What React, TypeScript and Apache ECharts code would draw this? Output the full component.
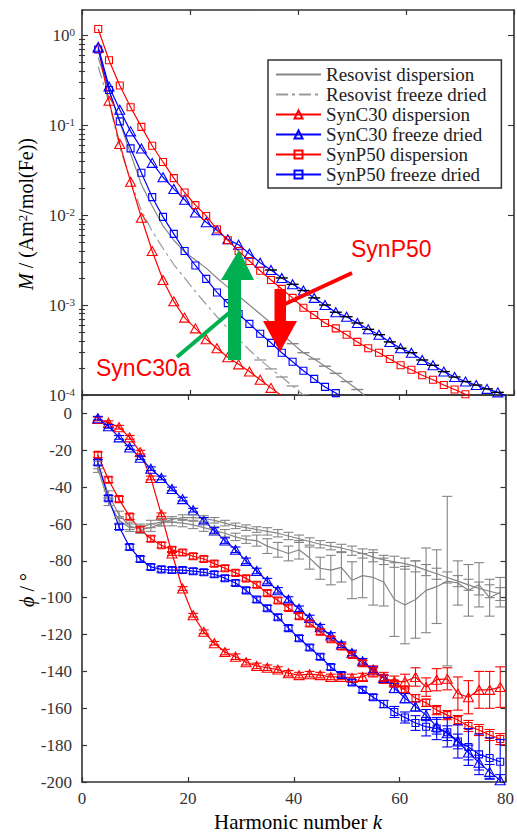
import { useEffect, useRef } from "react";
import * as echarts from "echarts";

// Odd harmonic numbers
const K = [3, 5, 7, 9, 11, 13, 15, 17, 19, 21, 23, 25, 27, 29, 31, 33, 35, 37, 39, 41, 43, 45, 47, 49, 51, 53, 55, 57, 59, 61, 63, 65, 67, 69, 71, 73, 75, 77, 79];

// Magnitude M / (Am^2/mol(Fe)), starting at k = 3
const resovistDispM = [0.562, 0.24, 0.107, 0.0479, 0.0219, 0.0126, 0.00759, 0.00525, 0.00389, 0.00316, 0.00257, 0.002, 0.00158, 0.00126, 0.001, 7.94e-4, 6.31e-4, 4.79e-4, 3.72e-4, 2.95e-4, 2.51e-4, 2.09e-4, 1.74e-4, 1.41e-4, 1.15e-4, 9.1e-5];
const resovistFdM = [0.447, 0.178, 0.0562, 0.024, 0.0112, 0.00661, 0.00427, 0.00282, 0.002, 0.00141, 0.00102, 7.41e-4, 5.5e-4, 4.17e-4, 3.16e-4, 2.45e-4, 1.95e-4, 1.585e-4, 1.26e-4, 1.0e-4, 7.9e-5];
const synC30DispM = [0.72, 0.186, 0.0617, 0.0234, 0.00933, 0.00398, 0.0019, 0.0011, 7.24e-4, 5.5e-4, 4.17e-4, 3.31e-4, 2.63e-4, 2.19e-4, 1.82e-4, 1.48e-4, 1.2e-4, 9.8e-5];
const synC30FdM = [0.741, 0.269, 0.148, 0.0851, 0.055, 0.038, 0.0263, 0.0195, 0.0148, 0.0107, 0.00832, 0.00676, 0.00537, 0.00468, 0.00372, 0.00295, 0.00245, 0.002, 0.0017, 0.00145, 0.0012, 0.001, 8.32e-4, 7.41e-4, 6.31e-4, 5.37e-4, 4.68e-4, 3.89e-4, 3.31e-4, 2.95e-4, 2.45e-4, 2.14e-4, 1.82e-4, 1.585e-4, 1.41e-4, 1.29e-4, 1.17e-4, 1.07e-4, 9.5e-5];
const synP50DispM = [1.17, 0.525, 0.275, 0.158, 0.0955, 0.0589, 0.0389, 0.0257, 0.0178, 0.0129, 0.00977, 0.00692, 0.00525, 0.00398, 0.00309, 0.0024, 0.0019, 0.00151, 0.0012, 9.33e-4, 7.76e-4, 6.31e-4, 5.5e-4, 4.68e-4, 3.89e-4, 3.31e-4, 2.95e-4, 2.51e-4, 2.14e-4, 1.91e-4, 1.66e-4, 1.48e-4, 1.29e-4, 1.15e-4, 1.02e-4, 9.1e-5];
const synP50FdM = [0.692, 0.245, 0.11, 0.055, 0.0295, 0.0158, 0.00955, 0.00617, 0.00398, 0.00275, 0.00195, 0.00138, 0.00105, 7.94e-4, 6.17e-4, 4.79e-4, 3.8e-4, 2.95e-4, 2.34e-4, 1.86e-4, 1.51e-4, 1.23e-4, 1.05e-4, 8.7e-5];

// Phase phi / degree, k = 3 ... 79, with error half-widths
const resovistDispPhi = [-28, -44, -55, -61, -63, -62, -59.5, -57.5, -56.5, -56.5, -57, -58, -59.5, -61, -62, -63, -64, -65, -66.5, -68, -69.5, -71, -72, -73, -74.5, -76, -78, -79.5, -80.5, -81.5, -83, -85, -87, -89, -91, -93, -95, -96.5, -98];
const resovistDispErr = [2, 2, 2, 2, 2, 2, 1.5, 1.5, 1.5, 1.5, 1.5, 1.5, 1.5, 1.5, 1.5, 1.5, 2, 2, 2, 2, 2, 2, 2, 2, 2.5, 2.5, 2.5, 2.5, 3, 3, 3, 3, 3, 3, 3, 3, 3.5, 3.5, 3.5];
const resovistFdPhi = [-30, -48, -58, -62, -62, -60, -59, -59, -59.5, -60.5, -62, -63.5, -65, -67, -68.5, -69, -72, -74, -76, -74, -78.5, -84, -85, -83.5, -90.5, -88, -89, -91.5, -101, -104, -101, -96, -94, -91, -92, -96, -93, -100, -97];
const resovistFdErr = [2, 2, 2, 2, 2, 2, 2, 2, 2, 2, 2, 2, 2, 2, 2, 3, 4, 4, 4, 5, 6, 6, 8, 8, 10, 12, 15, 13, 20, 21, 21, 23, 20, 46, 12, 14, 12, 10, 8];
const synC30DispPhi = [-3, -5, -7.5, -13, -21, -35, -55, -76, -95, -109.5, -118.5, -124.7, -129.5, -132, -135, -137, -138, -139, -141, -142, -141.5, -142, -143, -143, -143.5, -143, -140, -143.5, -145.5, -145.5, -143, -148.5, -144.5, -144, -152, -154, -150, -150, -148.5];
const synC30DispErr = [1, 1, 1, 1, 1, 1, 1, 1, 1, 1, 1, 1, 1.5, 1.5, 1.5, 1.5, 1.5, 1.5, 1.5, 1.5, 1.5, 1.5, 1.5, 1.5, 2, 2, 3, 3, 3, 4, 5, 5, 6, 6, 9, 9, 10, 10, 11];
const synC30FdPhi = [-2.6, -7, -13, -18.5, -24, -30, -35, -41, -46.5, -52.5, -58, -63.5, -69, -74, -80, -85.5, -91, -96, -101, -106, -111, -116, -120.5, -125.5, -130, -134.5, -139, -143.5, -149, -154.5, -159, -163.7, -170, -173.5, -178, -184, -189.5, -194.5, -199];
const synC30FdErr = [1, 1, 1, 1, 1, 1, 1, 1, 1, 1, 1.5, 1.5, 1.5, 1.5, 1.5, 1.5, 1.5, 1.5, 1.5, 1.5, 1.5, 1.5, 1.5, 1.5, 1.5, 1.5, 1.5, 1.5, 2.5, 2.5, 2.5, 3, 4, 4, 4, 4, 4, 4, 3];
const synP50DispPhi = [-22.5, -36, -46.5, -56, -63, -68, -71.5, -74, -75.5, -77.5, -79, -81.5, -84, -86.5, -89.5, -93, -97.5, -101.5, -105.5, -110, -114, -118.5, -122.5, -126.5, -131, -135.5, -139.5, -143.5, -146.5, -150, -154.5, -157, -161, -163.7, -166.4, -169.6, -171.8, -174.5, -176.7];
const synP50DispErr = [1.5, 1.5, 1.5, 1.5, 1.5, 1.5, 1.5, 1.5, 1.5, 1.5, 1.5, 1.5, 1.5, 1.5, 1.5, 1.5, 1.5, 1.5, 1.5, 1.5, 1.5, 1.5, 1.5, 1.5, 1.5, 1.5, 1.5, 1.5, 1.5, 1.5, 2, 2, 2.5, 2.5, 2.5, 3, 3, 3, 3];
const synP50FdPhi = [-26.6, -46, -61.5, -72.5, -79, -83.3, -84.6, -85, -85, -85.6, -86.2, -87.3, -89.4, -92, -96, -101, -105.7, -110.6, -116.5, -122, -127, -132, -137.6, -142, -146, -150, -154, -157.7, -162, -165, -168, -170, -171, -173, -178, -181, -185, -187, -189];
const synP50FdErr = [1.5, 1.5, 1.5, 1.5, 1.5, 1.5, 1.5, 1.5, 1.5, 1.5, 1.5, 1.5, 1.5, 1.5, 1.5, 1.5, 1.5, 1.5, 1.5, 1.5, 1.5, 1.5, 1.5, 1.5, 1.5, 1.5, 1.5, 2, 3, 3, 4, 5, 6, 8, 9, 10, 11, 11, 12];

// Log axis ticks
const DECADES = [1e-4, 1e-3, 1e-2, 1e-1, 1];
const MINOR_MANTISSAS = [2, 3, 4, 5, 6, 7, 8, 9];
const MINOR_TICKS = DECADES.slice(0, 4).flatMap((d) => MINOR_MANTISSAS.map((m) => +(m * d).toPrecision(3)));

const NAMES = [
  "Resovist dispersion",
  "Resovist freeze dried",
  "SynC30 dispersion",
  "SynC30 freeze dried",
  "SynP50 dispersion",
  "SynP50 freeze dried",
];

const RED = "#ff0000";
const BLUE = "#0000ff";
const GRAY = "#858585";
const LIGHT_GRAY = "#9a9a9a";
const GREEN = "#00b050";
const INK = "#333333";
const NONE = "rgba(255,255,255,0)";
const SERIF = "'Liberation Serif', 'Times New Roman', serif";
const SANS = "'Liberation Sans', Arial, sans-serif";

const pairs = (vals: number[], start = 0) => vals.map((v, i) => [K[i + start], v]);
const ranges = (vals: number[], errs: number[]) => vals.map((v, i) => [K[i], v - errs[i], v + errs[i]]);

function lineSeries(name: string, data: number[][], color: string, symbol: string, size: any, xi: number, yi: number, dash?: any) {
  const plain = symbol === "none";
  return {
    type: "line",
    name,
    xAxisIndex: xi,
    yAxisIndex: yi,
    data,
    color,
    symbol,
    symbolSize: size,
    showAllSymbol: true,
    clip: true,
    lineStyle: { color, width: 1.2, type: dash || "solid" },
    itemStyle: { color: NONE, borderColor: plain ? NONE : color, borderWidth: plain ? 0 : 1.1 },
    emphasis: { disabled: true },
    z: 4,
  };
}

function errorBars(data: number[][], color: string, xi: number, yi: number) {
  return {
    type: "custom",
    xAxisIndex: xi,
    yAxisIndex: yi,
    clip: true,
    silent: true,
    z: 5,
    encode: { x: 0, y: [1, 2] },
    data,
    renderItem: (_params: any, api: any) => {
      const x = api.value(0);
      const top = api.coord([x, api.value(2)]);
      const bot = api.coord([x, api.value(1)]);
      const hw = 5;
      const style = { stroke: color, lineWidth: 1.1, fill: null };
      return {
        type: "group",
        children: [
          { type: "line", shape: { x1: top[0], y1: top[1], x2: bot[0], y2: bot[1] }, style },
          { type: "line", shape: { x1: top[0] - hw, y1: top[1], x2: top[0] + hw, y2: top[1] }, style },
          { type: "line", shape: { x1: bot[0] - hw, y1: bot[1], x2: bot[0] + hw, y2: bot[1] }, style },
        ],
      };
    },
  };
}

function caps(data: number[][], color: string, xi: number, yi: number) {
  return {
    type: "custom",
    xAxisIndex: xi,
    yAxisIndex: yi,
    clip: true,
    silent: true,
    z: 5,
    encode: { x: 0, y: 1 },
    data,
    renderItem: (_params: any, api: any) => {
      const p = api.coord([api.value(0), api.value(1)]);
      return {
        type: "line",
        shape: { x1: p[0] - 6, y1: p[1], x2: p[0] + 6, y2: p[1] },
        style: { stroke: color, lineWidth: 1.4 },
      };
    },
  };
}

const frame = { show: true, onZero: false, lineStyle: { color: INK, width: 1.6 } };
const noSplit = { show: false };

function xAxis(gridIndex: number, position: string, labels: boolean) {
  return {
    type: "value",
    gridIndex,
    position,
    min: 0,
    max: 80,
    interval: 20,
    axisLine: frame,
    axisTick: { inside: true, length: 5, lineStyle: { color: INK, width: 1.2 } },
    axisLabel: labels
      ? { show: true, fontFamily: SERIF, fontSize: 17, color: INK, margin: 8 }
      : { show: false },
    splitLine: noSplit,
  };
}

function logAxis(position: string, major: boolean, labels: boolean) {
  return {
    type: "log",
    logBase: 10,
    gridIndex: 0,
    position,
    min: 1e-4,
    max: 1.9,
    axisLine: major ? frame : { show: false },
    axisTick: {
      inside: true,
      length: major ? 6 : 3,
      customValues: major ? DECADES : MINOR_TICKS,
      lineStyle: { color: INK, width: 1.1 },
    },
    axisLabel: labels
      ? {
          show: true,
          customValues: DECADES,
          margin: 7,
          formatter: (v: number) => `{b|10}{s|${Math.round(Math.log10(v))}}`,
          rich: {
            b: { fontFamily: SERIF, fontSize: 17, color: INK, lineHeight: 17, verticalAlign: "bottom" },
            s: { fontFamily: SERIF, fontSize: 11, color: INK, lineHeight: 11, verticalAlign: "top", padding: [0, 0, 9, 0] },
          },
        }
      : { show: false },
    splitLine: noSplit,
  };
}

function phaseAxis(position: string, labels: boolean) {
  return {
    type: "value",
    gridIndex: 1,
    position,
    min: -200,
    max: 10,
    interval: 20,
    axisLine: frame,
    axisTick: { inside: true, length: 5, lineStyle: { color: INK, width: 1.2 } },
    axisLabel: labels
      ? { show: true, fontFamily: SERIF, fontSize: 17, color: INK, margin: 10, showMaxLabel: false }
      : { show: false },
    splitLine: noSplit,
  };
}

const TRI = [10, 9];
const SQ = 7;
const DASH_DOT = [12, 4, 3, 4];

export default function App() {
  const ref = useRef<HTMLDivElement>(null);

  useEffect(() => {
    if (!ref.current) return;
    const chart = echarts.init(ref.current, undefined, { renderer: "svg" });

    const series: any[] = [
      // Magnitude spectra
      lineSeries(NAMES[0], pairs(resovistDispM), GRAY, "none", 0, 0, 0),
      lineSeries(NAMES[1], pairs(resovistFdM), LIGHT_GRAY, "none", 0, 0, 0, DASH_DOT),
      lineSeries(NAMES[2], pairs(synC30DispM), RED, "triangle", TRI, 0, 0),
      lineSeries(NAMES[3], pairs(synC30FdM), BLUE, "triangle", TRI, 0, 0),
      lineSeries(NAMES[4], pairs(synP50DispM), RED, "rect", SQ, 0, 0),
      lineSeries(NAMES[5], pairs(synP50FdM), BLUE, "rect", SQ, 0, 0),
      caps(pairs(resovistDispM.slice(17), 17), GRAY, 0, 0),
      caps(pairs(resovistFdM.slice(15), 15), LIGHT_GRAY, 0, 0),
      caps(pairs(synC30FdM.slice(16), 16), "#000000", 0, 0),

      // Phase spectra
      lineSeries(NAMES[0], pairs(resovistDispPhi), GRAY, "none", 0, 2, 4),
      lineSeries(NAMES[1], pairs(resovistFdPhi), GRAY, "none", 0, 2, 4),
      lineSeries(NAMES[2], pairs(synC30DispPhi), RED, "triangle", TRI, 2, 4),
      lineSeries(NAMES[3], pairs(synC30FdPhi), BLUE, "triangle", TRI, 2, 4),
      lineSeries(NAMES[4], pairs(synP50DispPhi), RED, "rect", SQ, 2, 4),
      lineSeries(NAMES[5], pairs(synP50FdPhi), BLUE, "rect", SQ, 2, 4),
      errorBars(ranges(resovistDispPhi, resovistDispErr), GRAY, 2, 4),
      errorBars(ranges(resovistFdPhi, resovistFdErr), GRAY, 2, 4),
      errorBars(ranges(synC30DispPhi, synC30DispErr), RED, 2, 4),
      errorBars(ranges(synC30FdPhi, synC30FdErr), BLUE, 2, 4),
      errorBars(ranges(synP50DispPhi, synP50DispErr), RED, 2, 4),
      errorBars(ranges(synP50FdPhi, synP50FdErr), BLUE, 2, 4),
    ];

    const supRich = {
      n: { fontFamily: SERIF, fontSize: 20, color: INK, lineHeight: 20, verticalAlign: "bottom" },
      i: { fontFamily: SERIF, fontSize: 20, fontStyle: "italic", color: INK, lineHeight: 20, verticalAlign: "bottom" },
      s: { fontFamily: SERIF, fontSize: 13, color: INK, lineHeight: 13, verticalAlign: "top", padding: [0, 0, 9, 0] },
    };

    chart.setOption({
      animation: false,
      backgroundColor: "#ffffff",
      textStyle: { fontFamily: SERIF },
      grid: [
        { left: 82, top: 10, width: 432, height: 385 },
        { left: 82, top: 395, width: 432, height: 387 },
      ],
      xAxis: [xAxis(0, "bottom", false), xAxis(0, "top", false), xAxis(1, "bottom", true), xAxis(1, "top", false)],
      yAxis: [
        logAxis("left", true, true),
        logAxis("left", false, false),
        logAxis("right", true, false),
        logAxis("right", false, false),
        phaseAxis("left", true),
        phaseAxis("right", false),
      ],
      legend: {
        data: NAMES,
        orient: "vertical",
        left: 268,
        top: 60,
        itemWidth: 45,
        itemHeight: 10,
        itemGap: 1,
        padding: [5, 15, 4, 7],
        borderColor: INK,
        borderWidth: 1.5,
        backgroundColor: "#ffffff",
        selectedMode: false,
        textStyle: { fontFamily: SERIF, fontSize: 19, color: "#222222" },
      },
      series,
      graphic: [
        {
          type: "polygon",
          z: 100,
          shape: { points: [[228, 360], [228, 280], [221, 280], [239, 250], [254, 280], [241, 280], [241, 360]] },
          style: { fill: GREEN },
        },
        { type: "line", z: 100, shape: { x1: 177, y1: 357, x2: 229, y2: 313 }, style: { stroke: GREEN, lineWidth: 4 } },
        {
          type: "polygon",
          z: 100,
          shape: { points: [[274.5, 289], [286, 289], [286, 321], [297, 321], [280, 352], [263, 321], [274.5, 321]] },
          style: { fill: RED },
        },
        { type: "line", z: 100, shape: { x1: 352, y1: 273, x2: 285, y2: 304 }, style: { stroke: RED, lineWidth: 4 } },
        {
          type: "text",
          z: 100,
          x: 351,
          y: 249,
          style: { text: "SynP50", fill: RED, fontFamily: SANS, fontSize: 23, verticalAlign: "middle" },
        },
        {
          type: "text",
          z: 100,
          x: 96,
          y: 368,
          style: { text: "SynC30a", fill: RED, fontFamily: SANS, fontSize: 23, verticalAlign: "middle" },
        },
        {
          type: "text",
          z: 100,
          x: 26,
          y: 214,
          rotation: Math.PI / 2,
          style: {
            text: "{i|M}{n| / (Am}{s|2}{n|/mol(Fe))}",
            rich: supRich,
            align: "center",
            verticalAlign: "middle",
          },
        },
        {
          type: "text",
          z: 100,
          x: 27,
          y: 590,
          rotation: Math.PI / 2,
          style: {
            text: "{i|\u03d5}{n| / \u00b0}",
            rich: supRich,
            align: "center",
            verticalAlign: "middle",
          },
        },
        {
          type: "text",
          z: 100,
          x: 298,
          y: 822,
          style: {
            text: "{n|Harmonic number }{i|k}",
            rich: {
              n: { fontFamily: SERIF, fontSize: 21, color: INK },
              i: { fontFamily: SERIF, fontSize: 21, fontStyle: "italic", color: INK },
            },
            align: "center",
            verticalAlign: "middle",
          },
        },
      ],
    });

    return () => chart.dispose();
  }, []);

  return (
    <div
      ref={ref}
      style={{ position: "fixed", left: 0, top: 0, width: 517, height: 833, background: "#ffffff" }}
    />
  );
}
